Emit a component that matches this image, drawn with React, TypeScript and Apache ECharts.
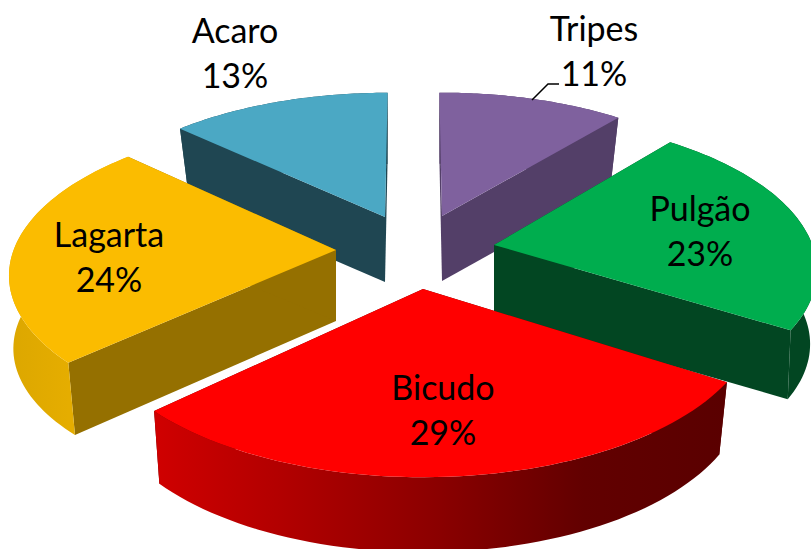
import React, { useEffect, useRef } from "react";
import * as echarts from "echarts";

const categories = ["Tripes", "Pulgão", "Bicudo", "Lagarta", "Acaro"];
const percents = [11, 23, 29, 24, 13];

type Vec = [number, number];
type SliceLook = {
  apex: Vec; u: Vec; v: Vec; q: number; lowQ: number; depth: number; apexDepth: number; sx: number;
  top: string; cut: string; rim: string[]; label: Vec;
};

// Projected placement of each exploded wedge of the 3D pie (perspective factors q, lowQ).
const looks: Record<string, SliceLook> = {
  Tripes: { apex: [442, 216], u: [309, -1], v: [-3, -140], q: 0.135, lowQ: 0.165, depth: 65, apexDepth: 65, sx: 0.975, top: "#7F619E", cut: "#533F68", rim: ["#533F68", "#533F68"], label: [594, 50] },
  "Pulgão": { apex: [494, 245], u: [318, -1], v: [-8, -148], q: 0.15, lowQ: 0.18, depth: 69.5, apexDepth: 69.5, sx: 0.973, top: "#00AD4E", cut: "#024622", rim: ["#024622", "#024622"], label: [700, 230] },
  Bicudo: { apex: [423, 289], u: [331, 0], v: [0, -160], q: 0.15, lowQ: 0.18, depth: 73, apexDepth: 73, sx: 0.958, top: "#FF0000", cut: "#5C0000", rim: ["#D00000", "#AE0000", "#8A0000", "#620000", "#5A0000"], label: [443, 409] },
  Lagarta: { apex: [336, 250], u: [322, 1], v: [8, -149], q: 0.15, lowQ: 0.13, depth: 76.6, apexDepth: 71, sx: 0.99, top: "#FBBC00", cut: "#957000", rim: ["#DCA700", "#E5AD00", "#E5AD00"], label: [109, 256] },
  Acaro: { apex: [385, 217], u: [310, 0], v: [3, -141], q: 0.135, lowQ: 0.165, depth: 65, apexDepth: 65, sx: 0.975, top: "#4BA8C4", cut: "#1F4652", rim: ["#1F4652", "#1F4652"], label: [235, 52] },
};

const drawOrder = ["Acaro", "Tripes", "Lagarta", "Pulgão", "Bicudo"];
const LOW_SY = 0.975;
const FONT = '34px Lato, "Open Sans", sans-serif';
const leader: Vec[] = [[532, 100], [548, 84], [559, 84]];

function App() {
  const ref = useRef<HTMLDivElement>(null);

  useEffect(() => {
    document.body.style.margin = "0";
    const chart = echarts.init(ref.current!, null, { renderer: "svg" });

    const total = percents.reduce((a, b) => a + b, 0);
    let acc = 0;
    const spans: Record<string, [number, number]> = {};
    categories.forEach((c, i) => {
      const s = (acc / total) * Math.PI * 2;
      acc += percents[i];
      spans[c] = [s, (acc / total) * Math.PI * 2];
    });

    const data = drawOrder.map((name) => ({
      name,
      value: [spans[name][0], spans[name][1], percents[categories.indexOf(name)]],
    }));

    const renderItem = (params: any, api: any) => {
      const name = data[params.dataIndex].name;
      const look = looks[name];
      const a0 = api.value(0) as number;
      const a1 = api.value(1) as number;
      const pct = api.value(2) as number;
      const topPt = (t: number): Vec => {
        const w = 1 + look.q * Math.cos(t);
        return [
          look.apex[0] + (look.u[0] * Math.sin(t) + look.v[0] * Math.cos(t)) / w,
          look.apex[1] + (look.u[1] * Math.sin(t) + look.v[1] * Math.cos(t)) / w,
        ];
      };
      const lowPt = (t: number): Vec => {
        const w = 1 + look.lowQ * Math.cos(t);
        return [
          look.apex[0] + (look.sx * (look.u[0] * Math.sin(t) + look.v[0] * Math.cos(t))) / w,
          look.apex[1] + look.depth + (LOW_SY * (look.u[1] * Math.sin(t) + look.v[1] * Math.cos(t))) / w,
        ];
      };
      const lowApex: Vec = [look.apex[0], look.apex[1] + look.apexDepth];
      const steps = 60;
      const topArc: Vec[] = [];
      const lowArc: Vec[] = [];
      for (let i = 0; i <= steps; i++) {
        const t = a0 + ((a1 - a0) * i) / steps;
        topArc.push(topPt(t));
        lowArc.push(lowPt(t));
      }
      const rimStops = look.rim.map((color, i) => ({ offset: i / (look.rim.length - 1), color }));
      const cutFace = (t: number) => [look.apex, topPt(t), lowPt(t), lowApex];
      return {
        type: "group",
        children: [
          { type: "polygon", shape: { points: cutFace(a0) }, style: { fill: look.cut } },
          { type: "polygon", shape: { points: cutFace(a1) }, style: { fill: look.cut } },
          {
            type: "polygon",
            shape: { points: [...topArc, ...lowArc.slice().reverse()] },
            style: { fill: new echarts.graphic.LinearGradient(0, 0, 1, 0, rimStops) },
          },
          { type: "polygon", shape: { points: [look.apex, ...topArc] }, style: { fill: look.top } },
          {
            type: "text",
            z2: 50,
            style: {
              text: `${name}\n${pct}%`,
              x: look.label[0],
              y: look.label[1],
              align: "center",
              verticalAlign: "middle",
              font: FONT,
              lineHeight: 45,
              fill: "#000000",
            },
          },
        ],
      };
    };

    chart.setOption({
      animation: false,
      backgroundColor: "#ffffff",
      graphic: [
        {
          type: "polyline",
          z: 20,
          shape: { points: leader },
          style: { stroke: "#000000", lineWidth: 1.5, fill: "none" },
        },
      ],
      series: [
        {
          type: "custom",
          coordinateSystem: "none",
          silent: true,
          renderItem,
          data,
        },
      ],
    });
    return () => chart.dispose();
  }, []);

  return <div ref={ref} style={{ width: 811, height: 549 }} />;
}

export default App;
